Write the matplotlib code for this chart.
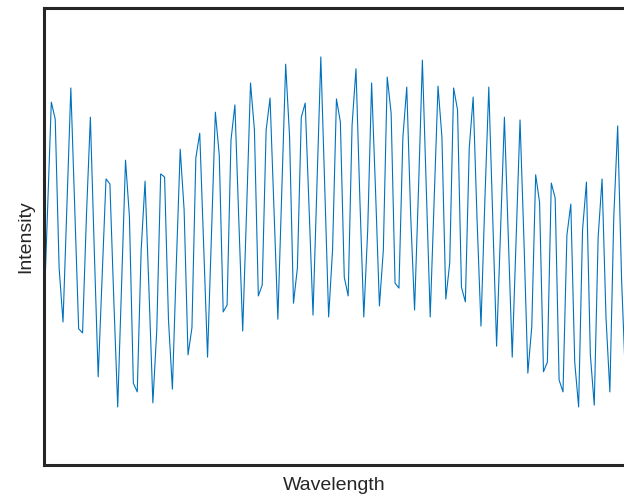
import matplotlib
matplotlib.use('Agg')
import matplotlib.pyplot as plt

plt.rcParams['font.family'] = ['Liberation Sans', 'DejaVu Sans']

# sample index along the wavelength axis (150 samples)
sample = list(range(150))

intensity = [
    0.302, 0.547, 0.794, 0.757, 0.431, 0.313, 0.569, 0.825, 0.558, 0.298,
    0.289, 0.547, 0.761, 0.470, 0.193, 0.409, 0.626, 0.615, 0.361, 0.127,
    0.398, 0.667, 0.543, 0.179, 0.160, 0.470, 0.621, 0.383, 0.136, 0.295,
    0.637, 0.630, 0.317, 0.166, 0.438, 0.691, 0.558, 0.241, 0.300, 0.672,
    0.726, 0.481, 0.236, 0.503, 0.772, 0.678, 0.335, 0.350, 0.711, 0.788,
    0.536, 0.293, 0.558, 0.836, 0.733, 0.370, 0.394, 0.733, 0.803, 0.562,
    0.319, 0.602, 0.877, 0.718, 0.354, 0.431, 0.761, 0.792, 0.558, 0.328,
    0.611, 0.893, 0.608, 0.324, 0.470, 0.801, 0.751, 0.411, 0.370, 0.744,
    0.867, 0.580, 0.324, 0.514, 0.836, 0.602, 0.348, 0.470, 0.849, 0.770,
    0.398, 0.387, 0.716, 0.827, 0.547, 0.339, 0.602, 0.886, 0.602, 0.324,
    0.580, 0.829, 0.718, 0.363, 0.442, 0.825, 0.777, 0.389, 0.357, 0.694,
    0.805, 0.536, 0.304, 0.580, 0.827, 0.547, 0.260, 0.514, 0.761, 0.499,
    0.236, 0.497, 0.755, 0.492, 0.201, 0.302, 0.635, 0.575, 0.204, 0.225,
    0.617, 0.584, 0.186, 0.160, 0.503, 0.571, 0.225, 0.127, 0.514, 0.619,
    0.241, 0.131, 0.499, 0.626, 0.324, 0.160, 0.543, 0.742, 0.405, 0.186,
]

fig = plt.figure(figsize=(6.24, 4.95), dpi=100)
# axes box runs slightly past the right edge of the figure, as in the original
ax = fig.add_axes([43.5 / 624, 30 / 495, 582 / 624, 457 / 495])

ax.plot(sample, intensity, color='#0072BD', linewidth=0.8)

ax.set_xlim(0, 149)
ax.set_ylim(0, 1)
ax.set_xticks([])
ax.set_yticks([])
for side in ax.spines.values():
    side.set_linewidth(2.2)
    side.set_color('#262626')

ax.set_xlabel('Wavelength', fontsize=14, color='#262626', va='center')
ax.xaxis.set_label_coords(0.5, -21 / 457)
ax.set_ylabel('Intensity', fontsize=14, color='#262626', va='center')
ax.yaxis.set_label_coords(-17.5 / 582, 0.5)

fig.savefig('out.png', dpi=100)
